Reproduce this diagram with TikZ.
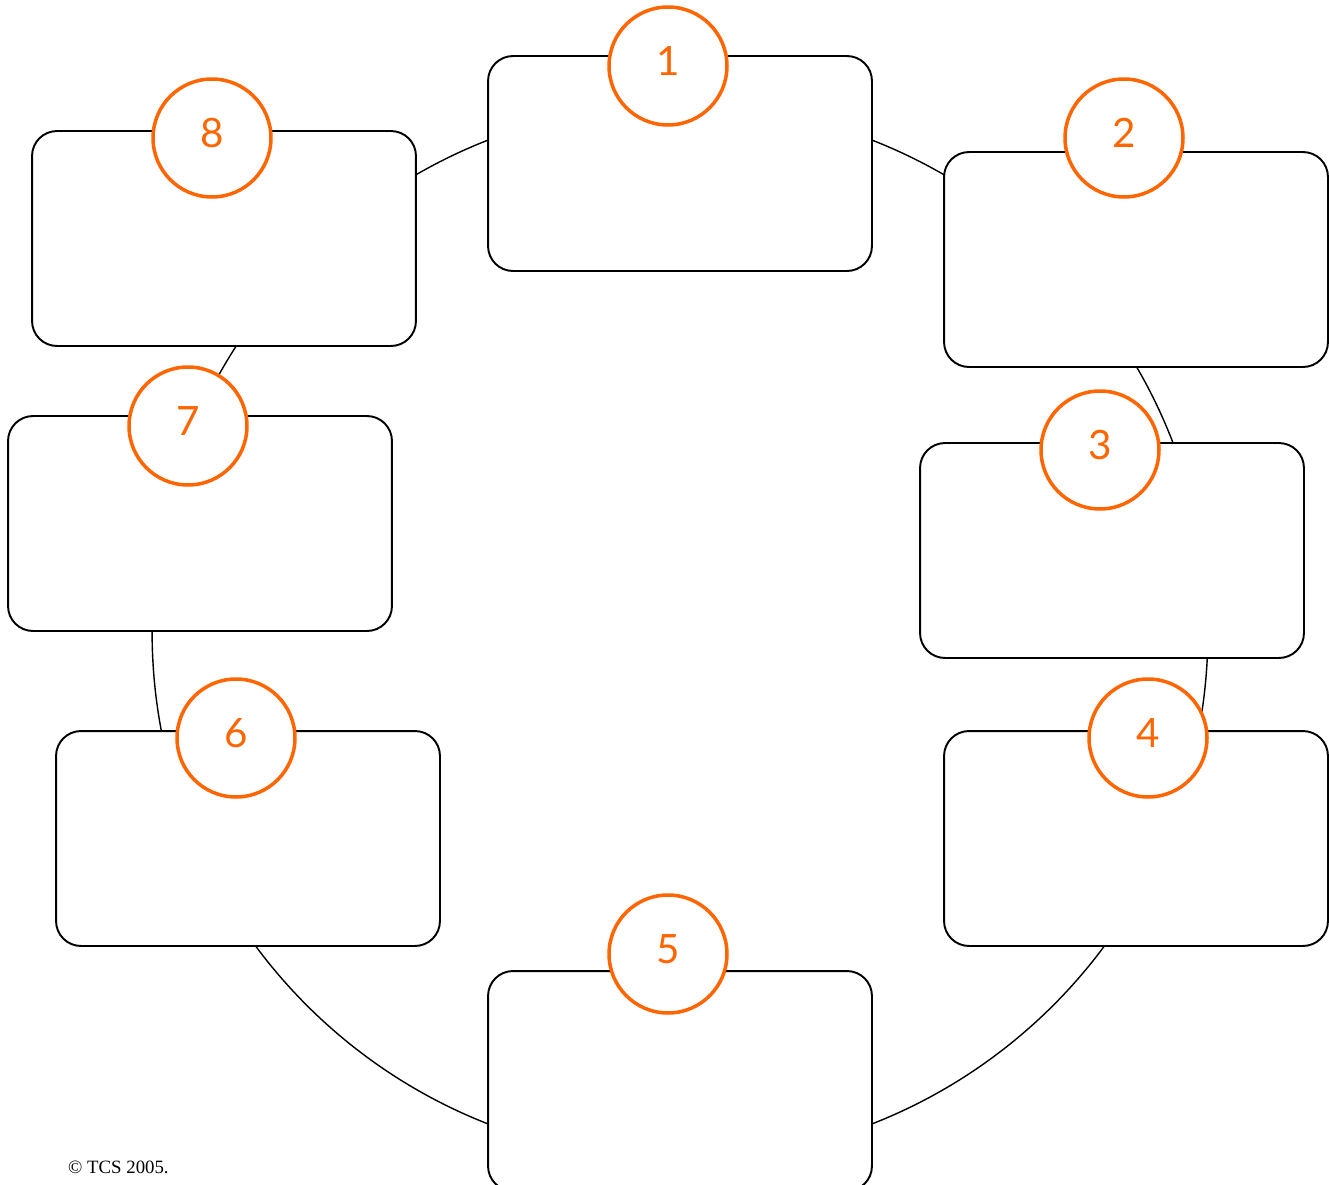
\documentclass[tikz,border=0pt]{standalone}
\usepackage{fontspec}
\newfontfamily\numfont{Lato}
\newfontfamily\notefont{Liberation Serif}
\definecolor{ringorange}{HTML}{FF6600}

\begin{document}
\begin{tikzpicture}[x=0.02cm, y=-0.02cm,
		stage/.style={draw, line width=1.1pt, fill=white, rounded corners=0.5cm,
			minimum width=7.68cm, minimum height=4.3cm},
		badge/.style={circle, draw=ringorange, line width=2pt, fill=white,
			minimum size=2.36cm, inner sep=0pt, text depth=6pt, text=ringorange,
			font=\numfont\fontsize{23}{27}\selectfont}]
		\useasboundingbox (0, 0) rectangle (1329, 1184);
		\clip (0, 0) rectangle (1329, 1184);
		% ring behind the boxes
		\draw[line width=0.8pt] (680, 632) circle (10.56cm);
		% boxes
		\node[stage] (box1) at (680, 163.5) {};
		\node[stage] (box2) at (1136, 259.5) {};
		\node[stage] (box3) at (1112, 550.5) {};
		\node[stage] (box4) at (1136, 838.5) {};
		\node[stage, minimum height=4.4cm] (box5) at (680, 1081) {};
		\node[stage] (box6) at (248, 838.5) {};
		\node[stage] (box7) at (200, 523.5) {};
		\node[stage] (box8) at (224, 238.5) {};
		% numbered badges
		\node[badge] (num1) at (668, 66) {1};
		\node[badge] (num2) at (1124, 138) {2};
		\node[badge] (num3) at (1100, 450) {3};
		\node[badge] (num4) at (1148, 738) {4};
		\node[badge] (num5) at (668, 954) {5};
		\node[badge] (num6) at (236, 738) {6};
		\node[badge] (num7) at (188, 426) {7};
		\node[badge] (num8) at (212, 138) {8};
		\node[anchor=west, font=\notefont\fontsize{10.7}{12}\selectfont] (note) at (62, 1167) {\textcopyright{} TCS 2005.};
	\end{tikzpicture}
\end{document}
